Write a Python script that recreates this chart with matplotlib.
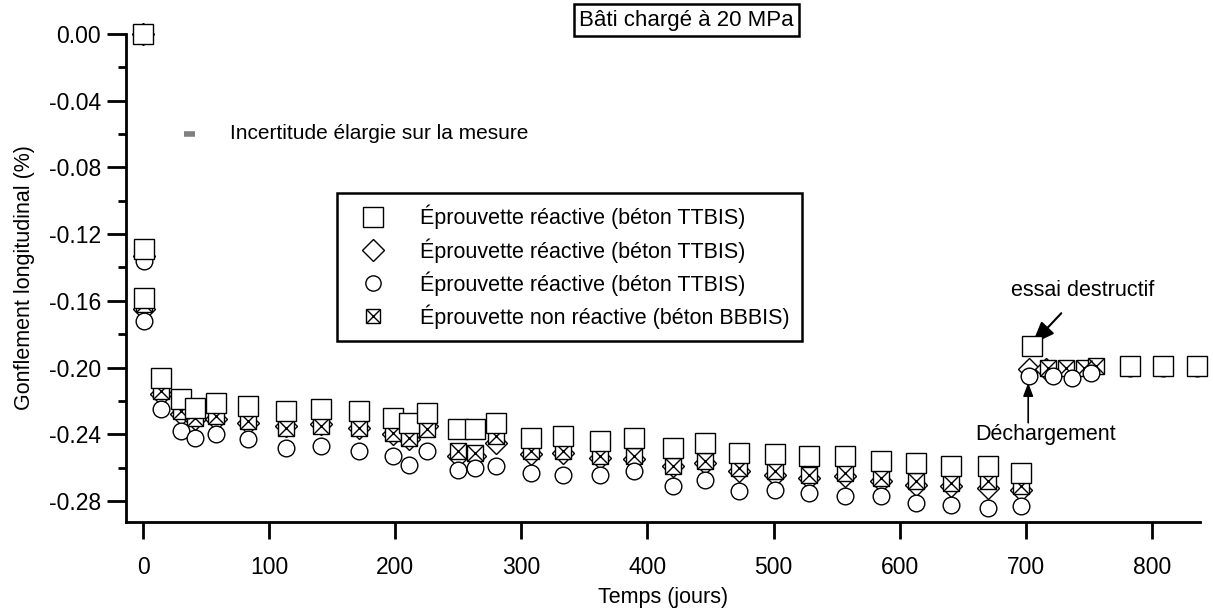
import numpy as np
import matplotlib
matplotlib.use('Agg')
import matplotlib.pyplot as plt
from matplotlib.legend_handler import HandlerTuple

plt.rcParams['font.family'] = ['Liberation Sans', 'DejaVu Sans']
plt.rcParams['axes.unicode_minus'] = False

# Loaded phase (bâti chargé) - days
temps = [0, 0.5, 1, 14, 30, 41, 58, 83, 113, 141, 171, 198, 211, 225, 250, 263, 280,
         308, 333, 362, 389, 420, 446, 473, 501, 528, 557, 585, 613, 641, 670, 696]
carre = [0.000, -0.129, -0.158, -0.206, -0.219, -0.224, -0.221, -0.223, -0.226, -0.225,
         -0.226, -0.230, -0.233, -0.227, -0.237, -0.237, -0.233, -0.242, -0.241, -0.244,
         -0.242, -0.248, -0.245, -0.251, -0.252, -0.253, -0.253, -0.256, -0.257, -0.259,
         -0.259, -0.263]
losange = [0.000, -0.133, -0.165, -0.216, -0.228, -0.231, -0.231, -0.233, -0.235, -0.234,
           -0.236, -0.240, -0.243, -0.235, -0.253, -0.253, -0.245, -0.252, -0.251, -0.254,
           -0.255, -0.259, -0.257, -0.262, -0.264, -0.266, -0.265, -0.268, -0.270, -0.271,
           -0.272, -0.273]
cercle = [0.000, -0.136, -0.172, -0.225, -0.238, -0.242, -0.240, -0.243, -0.248, -0.247,
          -0.250, -0.253, -0.258, -0.250, -0.261, -0.260, -0.259, -0.263, -0.264, -0.264,
          -0.262, -0.271, -0.267, -0.274, -0.273, -0.275, -0.277, -0.277, -0.281, -0.282,
          -0.284, -0.283]
croix = [0.000, -0.130, -0.162, -0.214, -0.226, -0.230, -0.229, -0.232, -0.236, -0.235,
         -0.236, -0.239, -0.242, -0.237, -0.250, -0.251, -0.241, -0.250, -0.250, -0.253,
         -0.253, -0.259, -0.256, -0.260, -0.262, -0.264, -0.263, -0.266, -0.268, -0.269,
         -0.268, -0.271]

# After unloading
temps_carre_dech = [705, 783, 809, 836]
carre_dech = [-0.187, -0.199, -0.199, -0.199]
temps_losange_dech = [703, 716]
losange_dech = [-0.201, -0.201]
temps_cercle_dech = [703, 722, 737, 752, 783, 809, 836]
cercle_dech = [-0.205, -0.205, -0.206, -0.203, -0.200, -0.200, -0.200]
temps_croix_dech = [718, 732, 746, 756]
croix_dech = [-0.200, -0.200, -0.200, -0.199]

labels = ['Éprouvette réactive (béton TTBIS)',
          'Éprouvette réactive (béton TTBIS)',
          'Éprouvette réactive (béton TTBIS)',
          'Éprouvette non réactive (béton BBBIS)']

fig = plt.figure(figsize=(12.13, 6.13), dpi=100)
ax = fig.add_axes([0.104, 0.148, 0.885, 0.797])

mk = dict(linestyle='none', markerfacecolor='white', markeredgecolor='black',
          markeredgewidth=1.0, clip_on=False)

ax.plot(temps + temps_losange_dech, losange + losange_dech, marker='D', markersize=11, zorder=2, **mk)
ax.plot(temps + temps_croix_dech, croix + croix_dech, marker='s', markersize=11, zorder=3, **mk)
ax.plot(temps + temps_croix_dech, croix + croix_dech, marker='x', markersize=11, zorder=3,
        linestyle='none', color='black', markeredgewidth=1.0, clip_on=False)
ax.plot(temps + temps_cercle_dech, cercle + cercle_dech, marker='o', markersize=12, zorder=4, **mk)
ax.plot(temps + temps_carre_dech, carre + carre_dech, marker='s', markersize=15, zorder=5, **mk)

# legend handles
h_sq, = ax.plot([], [], marker='s', markersize=14, **mk)
h_di, = ax.plot([], [], marker='D', markersize=11, **mk)
h_ci, = ax.plot([], [], marker='o', markersize=11, **mk)
h_xb, = ax.plot([], [], marker='s', markersize=10, **mk)
h_xx, = ax.plot([], [], marker='x', markersize=10, linestyle='none', color='black', markeredgewidth=1.0)
leg = fig.legend([h_sq, h_di, h_ci, (h_xb, h_xx)], labels,
                 handler_map={tuple: HandlerTuple(ndivide=1, pad=0)},
                 loc='upper left', bbox_to_anchor=(0.278, 0.685), borderaxespad=0,
                 fontsize=15.5, frameon=True, fancybox=False, edgecolor='black', framealpha=1,
                 handlelength=2.2, handletextpad=1.1, labelspacing=0.4, borderpad=0.55)
leg.get_frame().set_linewidth(1.8)

ax.set_xlim(-13.5, 838)
ax.set_ylim(-0.2926, 0.0)
ax.set_xticks(np.arange(0, 801, 100))
ax.set_yticks(np.arange(-0.28, 0.001, 0.04))
ax.set_yticklabels(['%.2f' % v for v in np.arange(-0.28, 0.001, 0.04)])
ax.set_yticks(np.arange(-0.26, 0.0, 0.04), minor=True)
ax.spines['top'].set_visible(False)
ax.spines['right'].set_visible(False)
for s in ['left', 'bottom']:
    ax.spines[s].set_linewidth(2.0)
ax.tick_params(axis='y', which='major', direction='out', length=14, width=2, labelsize=16.5, pad=4)
ax.tick_params(axis='y', which='minor', direction='out', length=6, width=2)
ax.tick_params(axis='x', which='major', direction='out', length=12, width=2, labelsize=16.5, pad=12)

ax.set_xlabel('Temps (jours)', fontsize=15.5, labelpad=6)
ax.set_ylabel('Gonflement longitudinal (%)', fontsize=15.5, labelpad=10)

# titre encadré
fig.text(0.566, 0.967, 'Bâti chargé à 20 MPa', fontsize=16, ha='center', va='center',
         bbox=dict(boxstyle='square,pad=0.25', facecolor='white', edgecolor='black', linewidth=1.8))

# incertitude
ax.plot([-13.5 + 46, -13.5 + 55], [-0.060, -0.060], color='gray', linewidth=4, solid_capstyle='butt')
ax.text(69, -0.060, 'Incertitude élargie sur la mesure', fontsize=15, va='center', ha='left')

# annotations
ax.annotate('essai destructif', xy=(705, -0.186), xytext=(745, -0.154), fontsize=15.5,
            ha='center', va='center',
            arrowprops=dict(arrowstyle='-|>,head_length=0.9,head_width=0.35', color='black', lw=1.5,
                            shrinkA=9, shrinkB=0))
ax.annotate('', xy=(702, -0.209), xytext=(702, -0.233),
            arrowprops=dict(arrowstyle='-|>,head_length=0.8,head_width=0.3', color='black', lw=1.2,
                            shrinkA=0, shrinkB=0))
ax.text(716, -0.240, 'Déchargement', fontsize=15.5, ha='center', va='center')

fig.savefig('out.png', dpi=100)
